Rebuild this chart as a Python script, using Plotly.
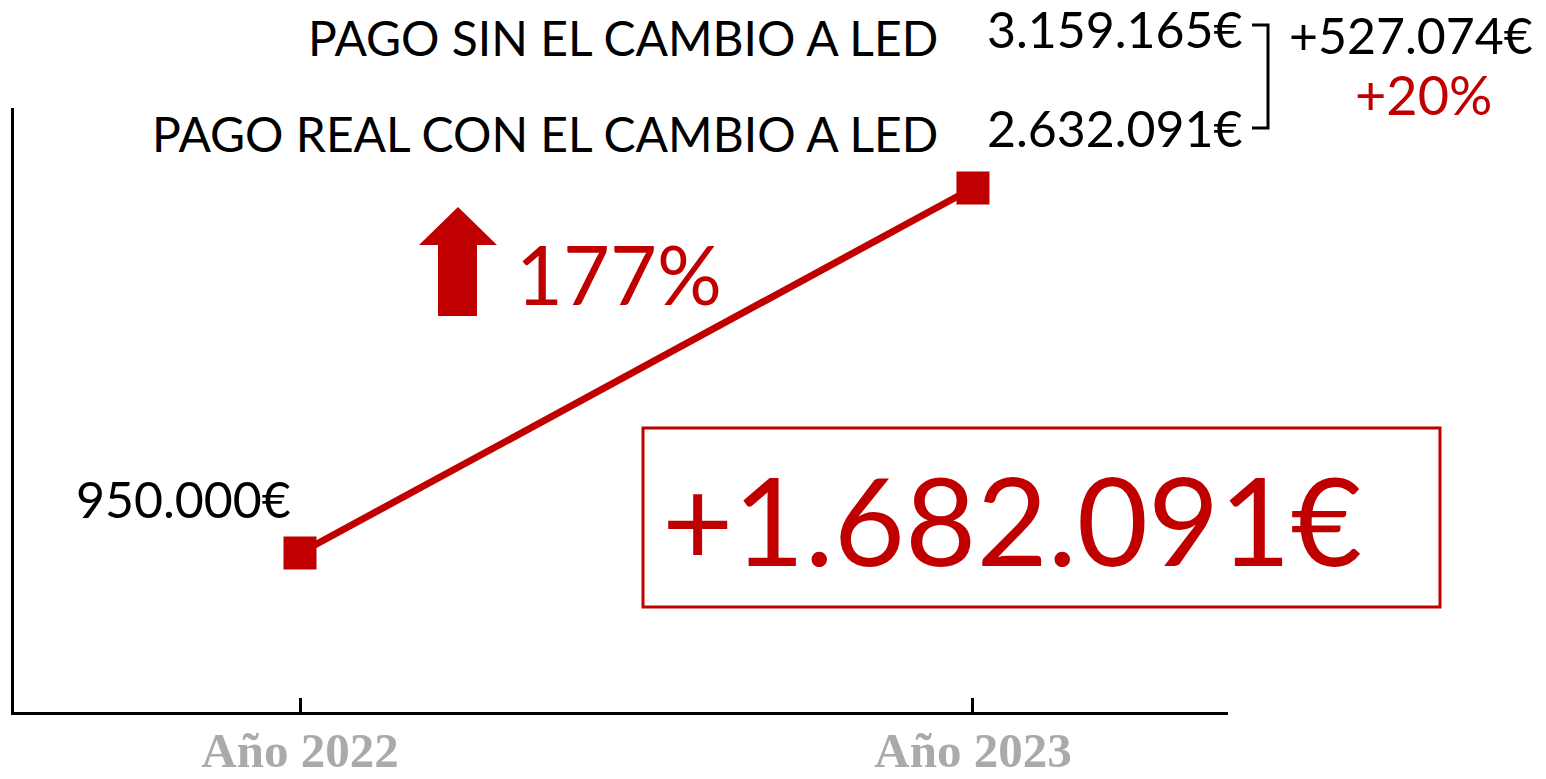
import plotly.graph_objects as go

# --- data -------------------------------------------------------------------
years = [2022, 2023]
year_labels = ["Año 2022", "Año 2023"]
pago_real = [950000, 2632091]          # pago real con el cambio a LED
pago_sin_led = 3159165                 # pago sin el cambio a LED (2023)

RED = "#c00000"
FONT = "Lato"

OFF = 8                                # page body margin
W, H = 1530, 763
L, T = 6, 100
R = W - (1228 - OFF)
B = H - (712 - OFF)


def fmt(v):
    return f"{v:,.0f}".replace(",", ".") + "€"


def px(x):  # screen pixel x -> paper x
    return (x - OFF - L) / (W - L - R)


def py(y):  # screen pixel y -> paper y
    return (H - B - (y - OFF)) / (H - T - B)


diff_led = pago_sin_led - pago_real[1]
pct_led = round(100 * diff_led / pago_real[1])
growth = round(100 * (pago_real[1] - pago_real[0]) / pago_real[0])
gain = pago_real[1] - pago_real[0]

fig = go.Figure()
fig.add_trace(go.Scatter(
    x=years, y=pago_real, mode="lines+markers",
    line=dict(color=RED, width=7),
    marker=dict(symbol="square", size=33, color=RED),
    showlegend=False, hoverinfo="skip",
))


def note(text, x, y, size, color="black", xanchor="left", weight="normal"):
    fig.add_annotation(text=text, x=px(x), y=py(y), xref="paper", yref="paper",
                       xanchor=xanchor, yanchor="middle", showarrow=False,
                       font=dict(family=FONT, size=size, color=color, weight=weight))


note("PAGO SIN EL CAMBIO A LED", 940, 38, 48, xanchor="right")
note("PAGO REAL CON EL CAMBIO A LED", 940, 133, 48, xanchor="right")
note(fmt(pago_sin_led), 985, 29, 50)
note(fmt(pago_real[1]), 985, 128, 50)
note("+" + fmt(diff_led), 1287, 35, 50)
note(f"+{pct_led}%", 1423, 94, 54, color=RED, xanchor="center")
note(f"{growth}%", 514, 273, 81, color=RED)
note("+" + fmt(gain), 1012, 518, 123, color=RED, xanchor="center")
note(fmt(pago_real[0]), 293, 499, 50, xanchor="right")

# bracket between the two 2023 amounts
fig.add_shape(type="path", xref="paper", yref="paper",
              path=f"M {px(1252)},{py(25)} L {px(1268)},{py(25)} L {px(1268)},{py(128)} L {px(1252)},{py(128)}",
              line=dict(color="black", width=3))

# up arrow
pts = [(438, 316), (477, 316), (477, 245), (497, 245), (458, 207), (419, 245), (438, 245)]
path = "M " + " L ".join(f"{px(a)},{py(b)}" for a, b in pts) + " Z"
fig.add_shape(type="path", xref="paper", yref="paper", path=path,
              fillcolor=RED, line=dict(width=0))

# box around the gain
fig.add_shape(type="rect", xref="paper", yref="paper",
              x0=px(643), x1=px(1440), y0=py(428), y1=py(607),
              line=dict(color=RED, width=3), fillcolor="rgba(0,0,0,0)")

fig.update_xaxes(
    range=[2021.575, 2023.379], tickvals=years, ticktext=year_labels,
    showline=True, linecolor="black", linewidth=3,
    ticks="inside", ticklen=14, tickwidth=3, tickcolor="black",
    ticklabelstandoff=-7,
    showgrid=False, zeroline=False, automargin=False,
    tickfont=dict(family="Liberation Serif", size=49, color="#aaaaaa", weight="bold"),
)
fig.update_yaxes(
    range=[217300, 3000800], showline=True, linecolor="black", linewidth=3,
    showticklabels=False, ticks="", showgrid=False, zeroline=False, automargin=False,
)
fig.update_layout(
    width=W, height=H,
    margin=dict(l=L, r=R, t=T, b=B),
    plot_bgcolor="white", paper_bgcolor="white",
)

fig.write_html("out.html")
